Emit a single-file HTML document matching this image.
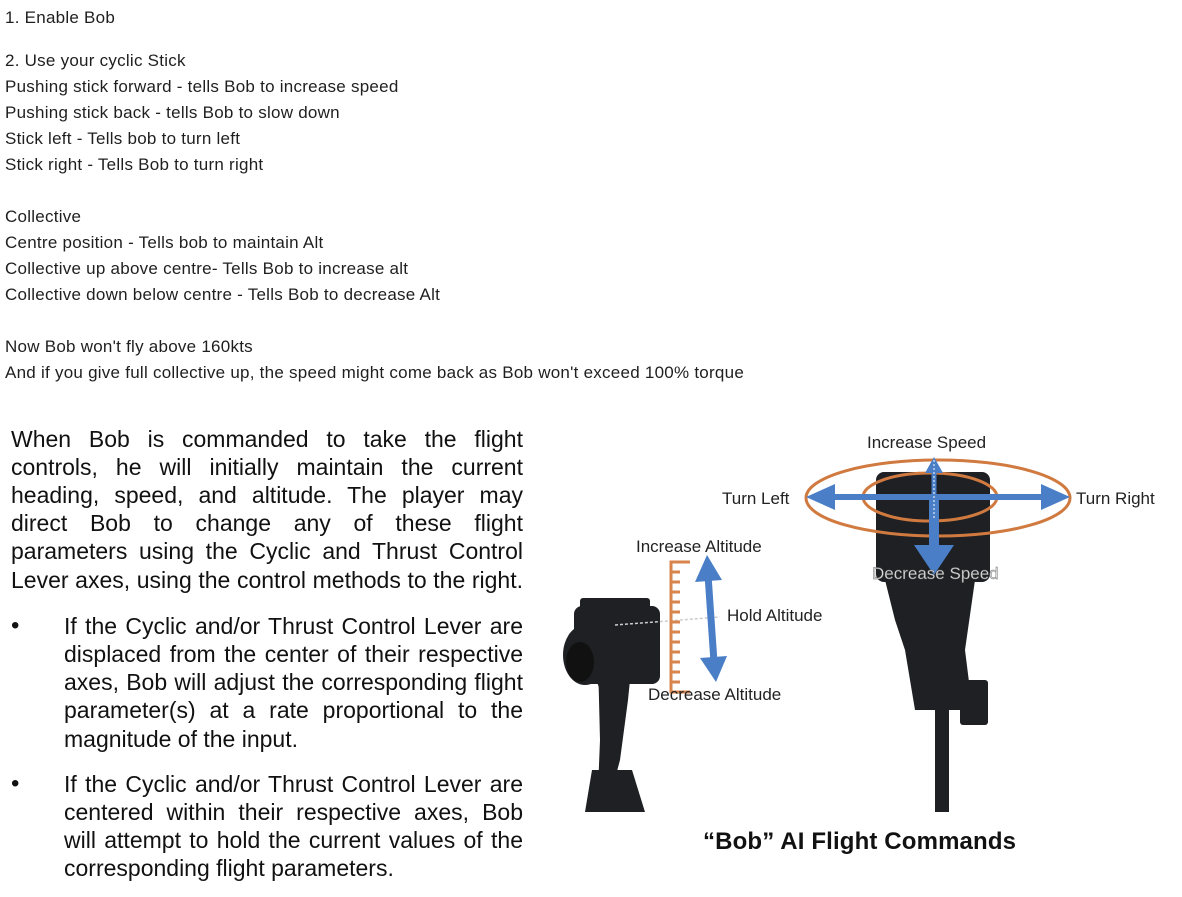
<!DOCTYPE html>
<html><head><meta charset="utf-8"><style>
body{margin:0;width:1182px;height:897px;background:#fff;position:relative;overflow:hidden;font-family:"Liberation Sans",sans-serif;}
.t{position:absolute;left:5px;font-size:17px;letter-spacing:0.25px;color:#1f1f1f;line-height:20px;white-space:nowrap}
.j{position:absolute;font-size:23px;color:#111;line-height:28px;text-align:justify;text-align-last:justify;white-space:nowrap;}
.b{position:absolute;left:11px;font-size:24px;color:#111}
svg text{font-family:"Liberation Sans",sans-serif}
</style></head><body>
<div class="t" style="top:8px">1. Enable Bob</div>
<div class="t" style="top:51px">2. Use your cyclic Stick</div>
<div class="t" style="top:77px">Pushing stick forward - tells Bob to increase speed</div>
<div class="t" style="top:103px">Pushing stick back - tells Bob to slow down</div>
<div class="t" style="top:129px">Stick left - Tells bob to turn left</div>
<div class="t" style="top:155px">Stick right - Tells Bob to turn right</div>
<div class="t" style="top:207px">Collective</div>
<div class="t" style="top:233px">Centre position - Tells bob to maintain Alt</div>
<div class="t" style="top:259px">Collective up above centre- Tells Bob to increase alt</div>
<div class="t" style="top:285px">Collective down below centre - Tells Bob to decrease Alt</div>
<div class="t" style="top:337px">Now Bob won't fly above 160kts</div>
<div class="t" style="top:363px">And if you give full collective up, the speed might come back as Bob won't exceed 100% torque</div>

<div class="j" style="left:11px;width:512px;top:425px">When Bob is commanded to take the flight</div>
<div class="j" style="left:11px;width:512px;top:453px">controls, he will initially maintain the current</div>
<div class="j" style="left:11px;width:512px;top:481px">heading, speed, and altitude. The player may</div>
<div class="j" style="left:11px;width:512px;top:509px">direct Bob to change any of these flight</div>
<div class="j" style="left:11px;width:512px;top:537px">parameters using the Cyclic and Thrust Control</div>
<div class="j" style="left:11px;width:512px;top:566px">Lever axes, using the control methods to the right.</div>

<div class="b" style="top:612px">•</div>
<div class="j" style="left:64px;width:459px;top:612px">If the Cyclic and/or Thrust Control Lever are</div>
<div class="j" style="left:64px;width:459px;top:640px">displaced from the center of their respective</div>
<div class="j" style="left:64px;width:459px;top:668px">axes, Bob will adjust the corresponding flight</div>
<div class="j" style="left:64px;width:459px;top:696px">parameter(s) at a rate proportional to the</div>
<div class="j" style="left:64px;width:459px;top:725px;text-align-last:left">magnitude of the input.</div>

<div class="b" style="top:770px">•</div>
<div class="j" style="left:64px;width:459px;top:770px">If the Cyclic and/or Thrust Control Lever are</div>
<div class="j" style="left:64px;width:459px;top:798px">centered within their respective axes, Bob</div>
<div class="j" style="left:64px;width:459px;top:826px">will attempt to hold the current values of the</div>
<div class="j" style="left:64px;width:459px;top:854px;text-align-last:left">corresponding flight parameters.</div>

<svg width="1182" height="897" style="position:absolute;left:0;top:0">
<g fill="#1e2024">
<rect x="574" y="606" width="86" height="78" rx="8"/>
<rect x="580" y="598" width="70" height="14" rx="3"/>
<path d="M575 625 L640 615 L640 660 L600 690 Z"/>
<ellipse cx="585" cy="655" rx="22" ry="30"/>
<path d="M598 660 L632 660 L628 700 L620 760 L612 790 L598 790 L600 740 Z"/>
<path d="M592 770 L632 770 L645 812 L585 812 Z"/>
</g>
<ellipse cx="580" cy="662" rx="14" ry="20" fill="#111"/>
<line x1="615" y1="625" x2="720" y2="617" stroke="#ccc" stroke-width="1.5" stroke-dasharray="3 2"/>
<g stroke="#d9844d" stroke-width="3" fill="none">
<path d="M690 562 L671 562 L671 692 L690 692"/>
<path d="M671 572h9M671 582h9M671 592h9M671 602h9M671 612h9M671 622h9M671 632h9M671 642h9M671 652h9M671 662h9M671 672h9M671 682h9"/>
</g>
<line x1="708" y1="575" x2="714" y2="662" stroke="#4a7fc8" stroke-width="7"/>
<polygon points="707,555 695,582 722,580" fill="#4a7fc8"/>
<polygon points="716,682 700,658 727,656" fill="#4a7fc8"/>
<g fill="#1e2024">
<rect x="876" y="472" width="114" height="110" rx="8"/>
<path d="M885 580 L975 580 L965 650 L970 690 L960 710 L915 710 L905 650 L895 620 Z"/>
<rect x="960" y="680" width="28" height="45" rx="3"/>
<rect x="935" y="700" width="14" height="112"/>
</g>
<g fill="none" stroke="#d07a40" stroke-width="3">
<ellipse cx="938" cy="498" rx="132" ry="38"/>
<ellipse cx="930" cy="497" rx="67" ry="24"/>
</g>
<line x1="828" y1="497" x2="1048" y2="497" stroke="#4a7fc8" stroke-width="6"/>
<polygon points="806,497 835,484 835,510" fill="#4a7fc8"/>
<polygon points="1070,497 1041,484 1041,510" fill="#4a7fc8"/>
<line x1="934" y1="470" x2="934" y2="497" stroke="#4a7fc8" stroke-width="5"/>
<polygon points="934,457 925,473 943,473" fill="#4a7fc8"/>
<line x1="934" y1="497" x2="934" y2="550" stroke="#4a7fc8" stroke-width="10"/>
<polygon points="934,575 914,545 954,545" fill="#4a7fc8"/>
<line x1="934" y1="460" x2="934" y2="520" stroke="#fff" stroke-width="1" stroke-dasharray="2 2"/>
<g font-size="17" fill="#222">
<text x="867" y="448">Increase Speed</text>
<text x="722" y="504">Turn Left</text>
<text x="1076" y="504">Turn Right</text>
<text x="636" y="552">Increase Altitude</text>
<text x="727" y="621">Hold Altitude</text>
<text x="648" y="700">Decrease Altitude</text>
<text x="872" y="579" fill="#ddd" stroke="#666" stroke-width="0.4">Decrease Speed</text>
<text x="703" y="849" font-size="24" font-weight="bold" fill="#111" textLength="313">“Bob” AI Flight Commands</text>
</g>
</svg>
</body></html>
